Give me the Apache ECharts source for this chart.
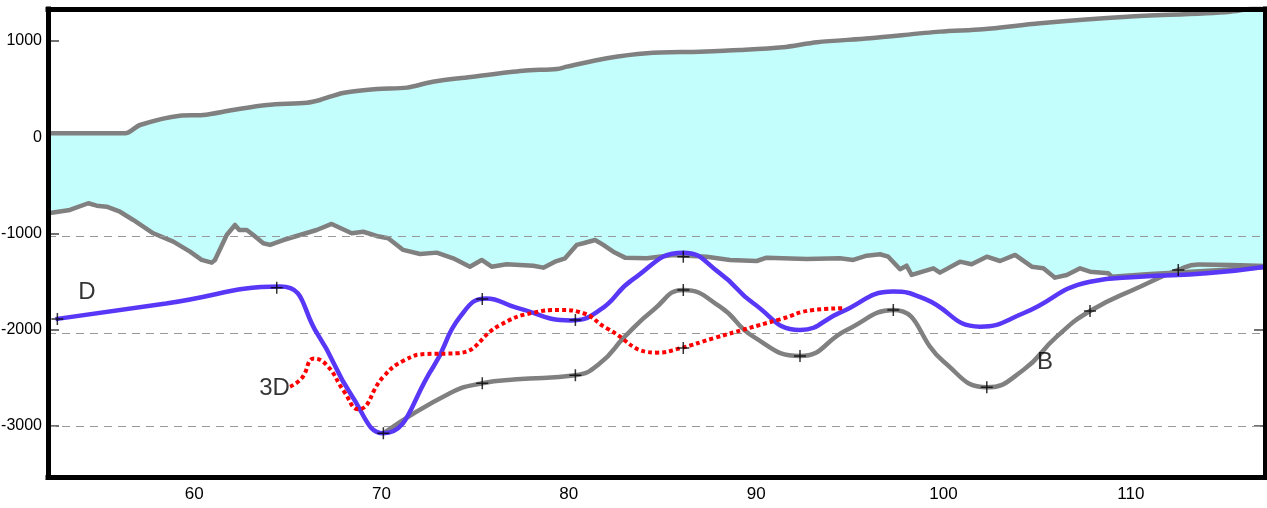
<!DOCTYPE html>
<html>
<head>
<meta charset="utf-8">
<script src="https://cdn.jsdelivr.net/npm/echarts@6/dist/echarts.min.js"></script>
<style>
html,body{margin:0;padding:0;background:#fff;}
#chart{width:1267px;height:508px;}
</style>
</head>
<body>
<div id="chart"></div>
<script>
// ---- data ----
const xTicks = [60, 70, 80, 90, 100, 110];
const yTicks = [-3000, -2000, -1000, 0, 1000];
const gridValues = [-1025, -2035, -3000];

const upperEdge = [[52.21,41],[56.32,41],[57.11,127],[59.24,224],[60.47,231],[62.07,283],[63.89,335],[66.02,359],[66.72,387],[67.94,460],[69.76,501],[71.36,515],[72.74,577],[74.88,629],[77.55,691],[79.37,709],[79.90,733],[82.03,820],[84.17,872],[87.00,889],[89.14,906],[91.43,935],[93.25,987],[96.08,1028],[99.81,1097],[102.11,1122],[105.15,1184],[109.80,1252],[115.30,1304],[117.27,1374]];

const lowerEdge = [[52.21,-790],[53.37,-756],[54.35,-686],[54.80,-711],[55.33,-722],[56.04,-774],[56.75,-860],[57.82,-998],[58.89,-1085],[59.78,-1189],[60.40,-1275],[60.94,-1303],[61.11,-1275],[61.74,-1016],[62.18,-912],[62.41,-964],[62.81,-964],[63.16,-1016],[63.69,-1102],[64.05,-1119],[64.76,-1068],[65.65,-1016],[66.54,-964],[67.34,-901],[68.41,-998],[69.03,-982],[69.74,-1026],[70.36,-1050],[71.16,-1171],[72.06,-1213],[72.95,-1199],[73.83,-1258],[74.72,-1345],[75.35,-1275],[75.88,-1345],[76.68,-1320],[78.10,-1335],[78.64,-1355],[79.26,-1293],[79.80,-1258],[80.42,-1119],[80.77,-1102],[81.40,-1068],[81.84,-1119],[82.37,-1189],[83.00,-1251],[84.16,-1258],[85.58,-1223],[87.36,-1241],[88.60,-1275],[90.03,-1286],[90.56,-1251],[92.70,-1265],[94.47,-1258],[95.18,-1275],[95.90,-1231],[96.61,-1216],[97.05,-1241],[97.68,-1372],[98.03,-1335],[98.30,-1431],[99.46,-1362],[99.81,-1407],[100.88,-1293],[101.50,-1320],[102.31,-1241],[103.02,-1286],[103.82,-1223],[104.71,-1345],[105.33,-1362],[105.95,-1459],[106.58,-1431],[107.29,-1362],[107.82,-1397],[108.80,-1414],[108.98,-1449],[111.02,-1420],[113.69,-1392],[117.16,-1350]];

const seriesD = [[52.6,-1890],[58.5,-1728],[64.6,-1552],[66.6,-2050],[68.4,-2680],[70.1,-3076],[72.77,-2384],[74.2,-1864],[75.6,-1676],[77.2,-1770],[80.1,-1903],[81.66,-1795],[83.4,-1480],[86.11,-1199],[88.07,-1414],[89.85,-1725],[92.34,-2003],[94.5,-1820],[97.32,-1604],[99.0,-1680],[101.95,-1968],[104.26,-1829],[107.82,-1501],[110.49,-1449],[114.05,-1414],[117.2,-1345]];

const seriesB = [[70.1,-3076],[73.65,-2660],[75.38,-2556],[77.22,-2515],[80.35,-2473],[81.66,-2349],[83.0,-2070],[84.51,-1795],[86.11,-1587],[88.07,-1761],[89.85,-2072],[92.34,-2273],[94.83,-2003],[97.32,-1795],[100.0,-2330],[102.31,-2598],[104.26,-2418],[106.04,-2072],[107.82,-1805],[110.49,-1553],[112.53,-1379],[113.6,-1322],[117.2,-1338]];

const series3D = [[65.12,-2592],[65.74,-2504],[66.4,-2300],[67.07,-2366],[68.0,-2640],[68.76,-2827],[70.10,-2488],[71.2,-2320],[72.41,-2252],[74.01,-2245],[76.33,-1951],[78.10,-1823],[79.53,-1795],[80.77,-1829],[82.02,-1985],[84.69,-2238],[85.93,-2193],[87.71,-2089],[91.27,-1892],[93.05,-1795],[94.65,-1777]];

const crossMarks = [[52.70,-1888],[64.41,-1563],[70.10,-3076],[75.38,-1681],[80.35,-1899],[75.38,-2556],[80.35,-2473],[86.11,-1241],[86.11,-1587],[86.11,-2190],[92.34,-2273],[97.32,-1795],[102.31,-2598],[107.82,-1805],[112.53,-1379]];

const curveLabels = [{name:'D', value:[54.28,-1608]},{name:'3D', value:[64.29,-2605]},{name:'B', value:[105.42,-2340]}];

// ---- chart ----
const X_MIN = 52.2, X_MAX = 117.16, Y_MIN = -3530, Y_MAX = 1332;
const FONT = "'Liberation Sans Narrow','Arial Narrow','Liberation Sans',Arial,sans-serif";
const GRAY = '#808080', BLUE = '#5838f6', RED = '#ff0000', CYAN = '#c4fefc';

const chart = echarts.init(document.getElementById('chart'), null, {renderer:'canvas'});

function tickAxisX(pos, labels){
  return {type:'value', position:pos, min:X_MIN, max:X_MAX, z:0,
    axisLine:{show:false}, splitLine:{show:false},
    axisTick:{show:true, inside:true, length:23, customValues:xTicks, lineStyle:{color:'#222', width:1}},
    axisLabel:{show:labels, customValues:xTicks, formatter:v=>String(v), color:'#000', fontFamily:FONT, fontSize:17, margin:9}};
}
function tickAxisY(pos, labels){
  return {type:'value', position:pos, min:Y_MIN, max:Y_MAX, z:0,
    axisLine:{show:false}, splitLine:{show:false},
    axisTick:{show:true, inside:true, length:11, customValues:yTicks, lineStyle:{color:'#444', width:1.5}},
    axisLabel:{show:labels, customValues:yTicks, formatter:v=>String(v), color:'#000', fontFamily:FONT, fontSize:16, margin:6}};
}
function borderAxisX(pos){
  return {type:'value', position:pos, min:X_MIN, max:X_MAX, z:20,
    axisLine:{show:true, onZero:false, lineStyle:{color:'#000', width:5, cap:'square'}},
    axisTick:{show:false}, axisLabel:{show:false}, splitLine:{show:false}};
}
function borderAxisY(pos){
  return {type:'value', position:pos, min:Y_MIN, max:Y_MAX, z:20,
    axisLine:{show:true, onZero:false, lineStyle:{color:'#000', width:5, cap:'square'}},
    axisTick:{show:false}, axisLabel:{show:false}, splitLine:{show:false}};
}

const option = {
  animation:false,
  backgroundColor:'#fff',
  grid:{left:48, right:2, top:9, bottom:31, containLabel:false, outerBoundsMode:'none'},
  xAxis:[tickAxisX('bottom', true), tickAxisX('top', false), borderAxisX('bottom'), borderAxisX('top')],
  yAxis:[tickAxisY('left', true), tickAxisY('right', false), borderAxisY('left'), borderAxisY('right')],
  series:[
    {type:'custom', z:1, clip:true, data:[[X_MIN, 0]],
      renderItem:function(params, api){
        const pts = upperEdge.map(p=>api.coord(p)).concat(lowerEdge.slice().reverse().map(p=>api.coord(p)));
        return {type:'polygon', shape:{points:pts}, style:{fill:CYAN, stroke:null}};
      }},
    {type:'line', z:3, data:[], symbol:'none',
      markLine:{silent:true, symbol:'none', animation:false, label:{show:false},
        lineStyle:{type:[8,6], color:'#999', width:1},
        data:gridValues.map(v=>({yAxis:v}))}},
    {type:'line', z:4, data:upperEdge, symbol:'none', smooth:0.3, lineStyle:{color:GRAY, width:4.5}},
    {type:'line', z:4, data:lowerEdge, symbol:'none', lineStyle:{color:GRAY, width:4.5, join:'round'}},
    {type:'line', z:5, data:seriesB, symbol:'none', smooth:0.5, lineStyle:{color:GRAY, width:4.5}},
    {type:'line', z:6, data:seriesD, symbol:'none', smooth:0.5, lineStyle:{color:BLUE, width:4.5}},
    {type:'line', z:7, data:series3D, symbol:'none', smooth:0.5, lineStyle:{color:RED, width:4, type:[4,3], cap:'butt'}},
    {type:'scatter', z:8, data:crossMarks, symbolSize:12,
      symbol:'path://M5.25,0H6.75V5.25H12V6.75H6.75V12H5.25V6.75H0V5.25H5.25Z',
      itemStyle:{color:'#000'}},
    {type:'scatter', z:9, data:curveLabels, symbolSize:1, itemStyle:{color:'rgba(0,0,0,0)'},
      label:{show:true, position:'inside', align:'center', verticalAlign:'middle', formatter:'{b}', color:'#000', fontFamily:FONT, fontSize:24}}
  ]
};
chart.setOption(option);
</script>
</body>
</html>
